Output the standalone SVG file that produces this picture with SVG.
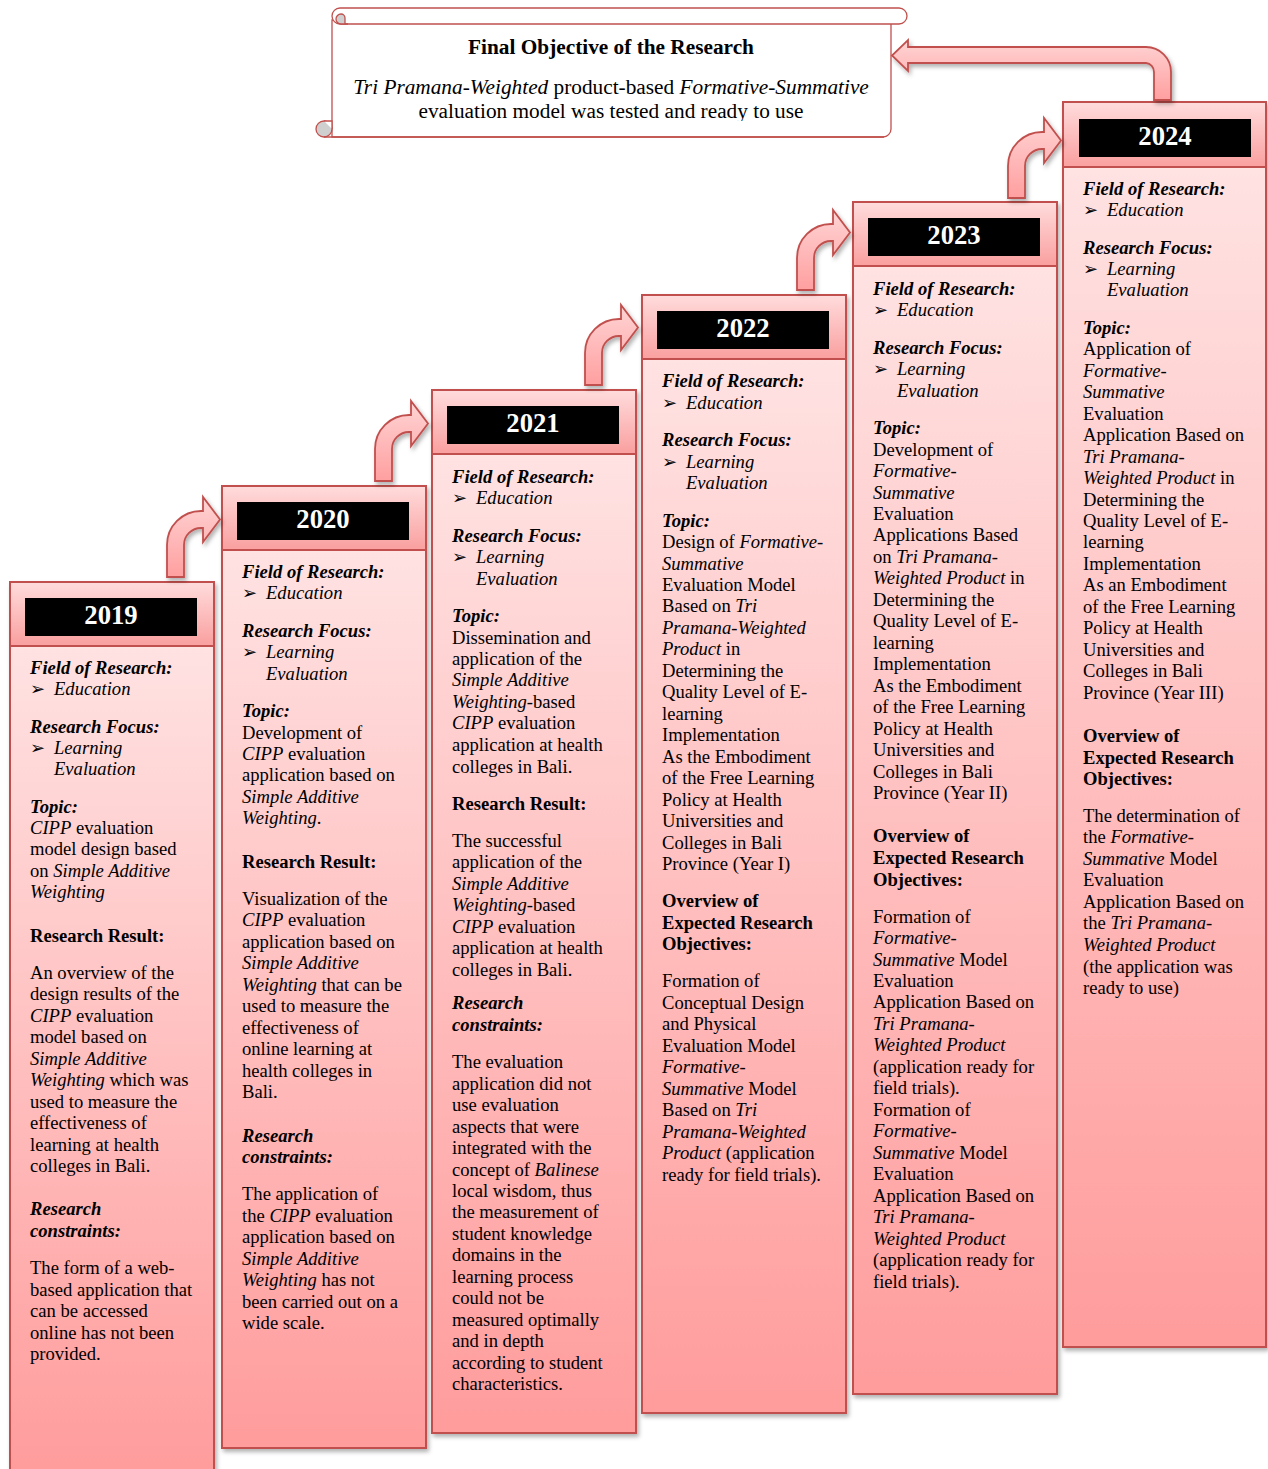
<svg xmlns="http://www.w3.org/2000/svg" width="1268" height="1469" viewBox="0 0 1268 1469">
<defs>
<style>
text{font-family:"Liberation Serif","Times New Roman",serif;font-size:18.6px;fill:#000}
.h{font-weight:bold;font-style:italic}
.b{font-weight:bold}
.i{font-style:italic}
.yr{font-size:26.7px;font-weight:bold;fill:#fff;text-anchor:middle}
.bu{font-family:"DejaVu Sans",sans-serif;font-size:18px;font-style:normal}
.ttl{font-size:21.3px;font-weight:bold;text-anchor:middle}
.sc{font-size:21.3px;text-anchor:middle}
.head{fill:url(#gHead);stroke:#c0504d;stroke-width:2}
.body{fill:url(#gBody);stroke:#c0504d;stroke-width:2}
.yb{fill:#000}
.arr{fill:url(#gArr);stroke:#c0504d;stroke-width:1.8;stroke-linejoin:miter}
.scr{fill:#fff;stroke:#c0504d;stroke-width:1.3}
.curl{fill:#cfcfcf;stroke:#c0504d;stroke-width:1.3}
</style>
<linearGradient id="gHead" x1="0" y1="0" x2="0" y2="1">
<stop offset="0" stop-color="#ffdcdc"/><stop offset="1" stop-color="#fa9f9f"/>
</linearGradient>
<linearGradient id="gBody" x1="0" y1="0" x2="0" y2="1">
<stop offset="0" stop-color="#ffe2e2"/><stop offset="1" stop-color="#ff9c9c"/>
</linearGradient>
<linearGradient id="gArr" x1="0" y1="0" x2="0" y2="1">
<stop offset="0" stop-color="#ffd4d4"/><stop offset="1" stop-color="#ff9fa0"/>
</linearGradient>
<filter id="sh" x="-10%" y="-5%" width="130%" height="115%">
<feDropShadow dx="2" dy="3" stdDeviation="2" flood-color="#000" flood-opacity="0.3"/>
</filter>
<clipPath id="scClip"><rect x="330" y="0" width="570" height="121"/></clipPath>
<path id="bent" d="M0,0 V-32 A34,34 0 0 1 34,-66 H36 V-80 L53,-57.5 L36,-35 V-49 H34 A17,17 0 0 0 17,-32 V0 Z"/>
</defs>

<g id="final-objective">
<path class="scr" d="M332,20 L332,137 L883,137 A8,8 0 0 0 891,129 L891,20 Z"/>
<rect class="scr" x="332" y="8" width="575" height="16" rx="8"/>
<path class="curl" d="M348,24 H341 A5,5 0 0 1 341,14 A4,4 0 0 1 345,18 V24"/>
<circle class="curl" cx="324" cy="129" r="8"/>
<path d="M324,121 H332 V129" fill="#fff" stroke="#c0504d" stroke-width="1.3"/>
<line x1="324" y1="137" x2="884" y2="137" stroke="#c0504d" stroke-width="1.3"/>
<text class="ttl" x="611" y="54">Final Objective of the Research</text>
<g clip-path="url(#scClip)">
<text class="sc" x="611" y="94"><tspan class="i">Tri Pramana-Weighted</tspan> product-based <tspan class="i">Formative-Summative</tspan></text>
<text class="sc" x="611" y="118">evaluation model was tested and ready to use</text>
</g>
</g>

<g id="col-2019">
<g filter="url(#sh)">
<rect class="body" x="10" y="646" width="204" height="830"/>
<rect class="head" x="10" y="582" width="204" height="64"/>
</g>
<rect class="yb" x="25" y="598" width="172" height="38"/>
<text class="yr" x="111" y="624">2019</text>
<text class="h" x="30" y="674">Field of Research:</text>
<text x="30" y="695"><tspan class="bu">➢</tspan><tspan class="i" x="54">Education</tspan></text>
<text class="h" x="30" y="733">Research Focus:</text>
<text x="30" y="754"><tspan class="bu">➢</tspan><tspan class="i" x="54">Learning</tspan></text>
<text class="i" x="54" y="775">Evaluation</text>
<text class="h" x="30" y="813">Topic:</text>
<text x="30" y="834"><tspan class="i">CIPP</tspan> evaluation</text>
<text x="30" y="855">model design based</text>
<text x="30" y="877">on <tspan class="i">Simple Additive</tspan></text>
<text class="i" x="30" y="898">Weighting</text>
<text class="b" x="30" y="942">Research Result:</text>
<text x="30" y="979">An overview of the</text>
<text x="30" y="1000">design results of the</text>
<text x="30" y="1022"><tspan class="i">CIPP</tspan> evaluation</text>
<text x="30" y="1043">model based on</text>
<text class="i" x="30" y="1065">Simple Additive</text>
<text x="30" y="1086"><tspan class="i">Weighting</tspan> which was</text>
<text x="30" y="1108">used to measure the</text>
<text x="30" y="1129">effectiveness of</text>
<text x="30" y="1151">learning at health</text>
<text x="30" y="1172">colleges in Bali.</text>
<text class="h" x="30" y="1215">Research</text>
<text class="h" x="30" y="1237">constraints:</text>
<text x="30" y="1274">The form of a web-</text>
<text x="30" y="1296">based application that</text>
<text x="30" y="1317">can be accessed</text>
<text x="30" y="1339">online has not been</text>
<text x="30" y="1360">provided.</text>
</g>

<g id="col-2020">
<g filter="url(#sh)">
<rect class="body" x="222" y="550" width="204" height="898"/>
<rect class="head" x="222" y="486" width="204" height="64"/>
</g>
<rect class="yb" x="237" y="502" width="172" height="38"/>
<text class="yr" x="323" y="528">2020</text>
<text class="h" x="242" y="578">Field of Research:</text>
<text x="242" y="599"><tspan class="bu">➢</tspan><tspan class="i" x="266">Education</tspan></text>
<text class="h" x="242" y="637">Research Focus:</text>
<text x="242" y="658"><tspan class="bu">➢</tspan><tspan class="i" x="266">Learning</tspan></text>
<text class="i" x="266" y="680">Evaluation</text>
<text class="h" x="242" y="717">Topic:</text>
<text x="242" y="739">Development of</text>
<text x="242" y="760"><tspan class="i">CIPP</tspan> evaluation</text>
<text x="242" y="781">application based on</text>
<text class="i" x="242" y="803">Simple Additive</text>
<text x="242" y="824"><tspan class="i">Weighting</tspan>.</text>
<text class="b" x="242" y="868">Research Result:</text>
<text x="242" y="905">Visualization of the</text>
<text x="242" y="926"><tspan class="i">CIPP</tspan> evaluation</text>
<text x="242" y="948">application based on</text>
<text class="i" x="242" y="969">Simple Additive</text>
<text x="242" y="991"><tspan class="i">Weighting</tspan> that can be</text>
<text x="242" y="1012">used to measure the</text>
<text x="242" y="1034">effectiveness of</text>
<text x="242" y="1055">online learning at</text>
<text x="242" y="1077">health colleges in</text>
<text x="242" y="1098">Bali.</text>
<text class="h" x="242" y="1142">Research</text>
<text class="h" x="242" y="1163">constraints:</text>
<text x="242" y="1200">The application of</text>
<text x="242" y="1222">the <tspan class="i">CIPP</tspan> evaluation</text>
<text x="242" y="1243">application based on</text>
<text class="i" x="242" y="1265">Simple Additive</text>
<text x="242" y="1286"><tspan class="i">Weighting</tspan> has not</text>
<text x="242" y="1308">been carried out on a</text>
<text x="242" y="1329">wide scale.</text>
</g>

<g id="col-2021">
<g filter="url(#sh)">
<rect class="body" x="432" y="454" width="204" height="979"/>
<rect class="head" x="432" y="390" width="204" height="64"/>
</g>
<rect class="yb" x="447" y="406" width="172" height="38"/>
<text class="yr" x="533" y="432">2021</text>
<text class="h" x="452" y="483">Field of Research:</text>
<text x="452" y="504"><tspan class="bu">➢</tspan><tspan class="i" x="476">Education</tspan></text>
<text class="h" x="452" y="542">Research Focus:</text>
<text x="452" y="563"><tspan class="bu">➢</tspan><tspan class="i" x="476">Learning</tspan></text>
<text class="i" x="476" y="585">Evaluation</text>
<text class="h" x="452" y="622">Topic:</text>
<text x="452" y="644">Dissemination and</text>
<text x="452" y="665">application of the</text>
<text class="i" x="452" y="686">Simple Additive</text>
<text x="452" y="708"><tspan class="i">Weighting</tspan>-based</text>
<text x="452" y="729"><tspan class="i">CIPP</tspan> evaluation</text>
<text x="452" y="751">application at health</text>
<text x="452" y="773">colleges in Bali.</text>
<text class="b" x="452" y="810">Research Result:</text>
<text x="452" y="847">The successful</text>
<text x="452" y="868">application of the</text>
<text class="i" x="452" y="890">Simple Additive</text>
<text x="452" y="911"><tspan class="i">Weighting</tspan>-based</text>
<text x="452" y="933"><tspan class="i">CIPP</tspan> evaluation</text>
<text x="452" y="954">application at health</text>
<text x="452" y="976">colleges in Bali.</text>
<text class="h" x="452" y="1009">Research</text>
<text class="h" x="452" y="1031">constraints:</text>
<text x="452" y="1068">The evaluation</text>
<text x="452" y="1090">application did not</text>
<text x="452" y="1111">use evaluation</text>
<text x="452" y="1133">aspects that were</text>
<text x="452" y="1154">integrated with the</text>
<text x="452" y="1176">concept of <tspan class="i">Balinese</tspan></text>
<text x="452" y="1197">local wisdom, thus</text>
<text x="452" y="1218">the measurement of</text>
<text x="452" y="1240">student knowledge</text>
<text x="452" y="1261">domains in the</text>
<text x="452" y="1283">learning process</text>
<text x="452" y="1304">could not be</text>
<text x="452" y="1326">measured optimally</text>
<text x="452" y="1347">and in depth</text>
<text x="452" y="1369">according to student</text>
<text x="452" y="1390">characteristics.</text>
</g>

<g id="col-2022">
<g filter="url(#sh)">
<rect class="body" x="642" y="359" width="204" height="1054"/>
<rect class="head" x="642" y="295" width="204" height="64"/>
</g>
<rect class="yb" x="657" y="311" width="172" height="38"/>
<text class="yr" x="743" y="337">2022</text>
<text class="h" x="662" y="387">Field of Research:</text>
<text x="662" y="409"><tspan class="bu">➢</tspan><tspan class="i" x="686">Education</tspan></text>
<text class="h" x="662" y="446">Research Focus:</text>
<text x="662" y="468"><tspan class="bu">➢</tspan><tspan class="i" x="686">Learning</tspan></text>
<text class="i" x="686" y="489">Evaluation</text>
<text class="h" x="662" y="527">Topic:</text>
<text x="662" y="548">Design of <tspan class="i">Formative-</tspan></text>
<text class="i" x="662" y="570">Summative</text>
<text x="662" y="591">Evaluation Model</text>
<text x="662" y="612">Based on <tspan class="i">Tri</tspan></text>
<text class="i" x="662" y="634">Pramana-Weighted</text>
<text x="662" y="655"><tspan class="i">Product</tspan> in</text>
<text x="662" y="677">Determining the</text>
<text x="662" y="698">Quality Level of E-</text>
<text x="662" y="720">learning</text>
<text x="662" y="741">Implementation</text>
<text x="662" y="763">As the Embodiment</text>
<text x="662" y="784">of the Free Learning</text>
<text x="662" y="806">Policy at Health</text>
<text x="662" y="827">Universities and</text>
<text x="662" y="849">Colleges in Bali</text>
<text x="662" y="870">Province (Year I)</text>
<text class="b" x="662" y="907">Overview of</text>
<text class="b" x="662" y="929">Expected Research</text>
<text class="b" x="662" y="950">Objectives:</text>
<text x="662" y="987">Formation of</text>
<text x="662" y="1009">Conceptual Design</text>
<text x="662" y="1030">and Physical</text>
<text x="662" y="1052">Evaluation Model</text>
<text class="i" x="662" y="1073">Formative-</text>
<text x="662" y="1095"><tspan class="i">Summative</tspan> Model</text>
<text x="662" y="1116">Based on <tspan class="i">Tri</tspan></text>
<text class="i" x="662" y="1138">Pramana-Weighted</text>
<text x="662" y="1159"><tspan class="i">Product</tspan> (application</text>
<text x="662" y="1181">ready for field trials).</text>
</g>

<g id="col-2023">
<g filter="url(#sh)">
<rect class="body" x="853" y="266" width="204" height="1128"/>
<rect class="head" x="853" y="202" width="204" height="64"/>
</g>
<rect class="yb" x="868" y="218" width="172" height="38"/>
<text class="yr" x="954" y="244">2023</text>
<text class="h" x="873" y="295">Field of Research:</text>
<text x="873" y="316"><tspan class="bu">➢</tspan><tspan class="i" x="897">Education</tspan></text>
<text class="h" x="873" y="354">Research Focus:</text>
<text x="873" y="375"><tspan class="bu">➢</tspan><tspan class="i" x="897">Learning</tspan></text>
<text class="i" x="897" y="397">Evaluation</text>
<text class="h" x="873" y="434">Topic:</text>
<text x="873" y="456">Development of</text>
<text class="i" x="873" y="477">Formative-</text>
<text class="i" x="873" y="499">Summative</text>
<text x="873" y="520">Evaluation</text>
<text x="873" y="541">Applications Based</text>
<text x="873" y="563">on <tspan class="i">Tri Pramana-</tspan></text>
<text x="873" y="584"><tspan class="i">Weighted Product</tspan> in</text>
<text x="873" y="606">Determining the</text>
<text x="873" y="627">Quality Level of E-</text>
<text x="873" y="649">learning</text>
<text x="873" y="670">Implementation</text>
<text x="873" y="692">As the Embodiment</text>
<text x="873" y="713">of the Free Learning</text>
<text x="873" y="735">Policy at Health</text>
<text x="873" y="756">Universities and</text>
<text x="873" y="778">Colleges in Bali</text>
<text x="873" y="799">Province (Year II)</text>
<text class="b" x="873" y="842">Overview of</text>
<text class="b" x="873" y="864">Expected Research</text>
<text class="b" x="873" y="886">Objectives:</text>
<text x="873" y="923">Formation of</text>
<text class="i" x="873" y="944">Formative-</text>
<text x="873" y="966"><tspan class="i">Summative</tspan> Model</text>
<text x="873" y="987">Evaluation</text>
<text x="873" y="1008">Application Based on</text>
<text class="i" x="873" y="1030">Tri Pramana-</text>
<text class="i" x="873" y="1051">Weighted Product</text>
<text x="873" y="1073">(application ready for</text>
<text x="873" y="1094">field trials).</text>
<text x="873" y="1116">Formation of</text>
<text class="i" x="873" y="1137">Formative-</text>
<text x="873" y="1159"><tspan class="i">Summative</tspan> Model</text>
<text x="873" y="1180">Evaluation</text>
<text x="873" y="1202">Application Based on</text>
<text class="i" x="873" y="1223">Tri Pramana-</text>
<text class="i" x="873" y="1245">Weighted Product</text>
<text x="873" y="1266">(application ready for</text>
<text x="873" y="1288">field trials).</text>
</g>

<g id="col-2024">
<g filter="url(#sh)">
<rect class="body" x="1063" y="167" width="203" height="1180"/>
<rect class="head" x="1063" y="102" width="203" height="65"/>
</g>
<rect class="yb" x="1079" y="119" width="172" height="38"/>
<text class="yr" x="1165" y="145">2024</text>
<text class="h" x="1083" y="195">Field of Research:</text>
<text x="1083" y="216"><tspan class="bu">➢</tspan><tspan class="i" x="1107">Education</tspan></text>
<text class="h" x="1083" y="254">Research Focus:</text>
<text x="1083" y="275"><tspan class="bu">➢</tspan><tspan class="i" x="1107">Learning</tspan></text>
<text class="i" x="1107" y="296">Evaluation</text>
<text class="h" x="1083" y="334">Topic:</text>
<text x="1083" y="355">Application of</text>
<text class="i" x="1083" y="377">Formative-</text>
<text class="i" x="1083" y="398">Summative</text>
<text x="1083" y="420">Evaluation</text>
<text x="1083" y="441">Application Based on</text>
<text class="i" x="1083" y="463">Tri Pramana-</text>
<text x="1083" y="484"><tspan class="i">Weighted Product</tspan> in</text>
<text x="1083" y="506">Determining the</text>
<text x="1083" y="527">Quality Level of E-</text>
<text x="1083" y="548">learning</text>
<text x="1083" y="570">Implementation</text>
<text x="1083" y="591">As an Embodiment</text>
<text x="1083" y="613">of the Free Learning</text>
<text x="1083" y="634">Policy at Health</text>
<text x="1083" y="656">Universities and</text>
<text x="1083" y="677">Colleges in Bali</text>
<text x="1083" y="699">Province (Year III)</text>
<text class="b" x="1083" y="742">Overview of</text>
<text class="b" x="1083" y="764">Expected Research</text>
<text class="b" x="1083" y="785">Objectives:</text>
<text x="1083" y="822">The determination of</text>
<text x="1083" y="843">the <tspan class="i">Formative-</tspan></text>
<text x="1083" y="865"><tspan class="i">Summative</tspan> Model</text>
<text x="1083" y="886">Evaluation</text>
<text x="1083" y="908">Application Based on</text>
<text x="1083" y="929">the <tspan class="i">Tri Pramana-</tspan></text>
<text class="i" x="1083" y="951">Weighted Product</text>
<text x="1083" y="973">(the application was</text>
<text x="1083" y="994">ready to use)</text>
</g>

<g id="connectors" filter="url(#sh)">
<use href="#bent" class="arr" transform="translate(167,577)"/>
<use href="#bent" class="arr" transform="translate(375,481)"/>
<use href="#bent" class="arr" transform="translate(585,385)"/>
<use href="#bent" class="arr" transform="translate(797,290)"/>
<use href="#bent" class="arr" transform="translate(1008,198)"/>
<path class="arr" d="M1171,100 V72 A25,25 0 0 0 1146,47 H908 V40 L892,55.5 L908,71 V63 H1146 A9,9 0 0 1 1154,72 V100 Z"/>
</g>
</svg>
